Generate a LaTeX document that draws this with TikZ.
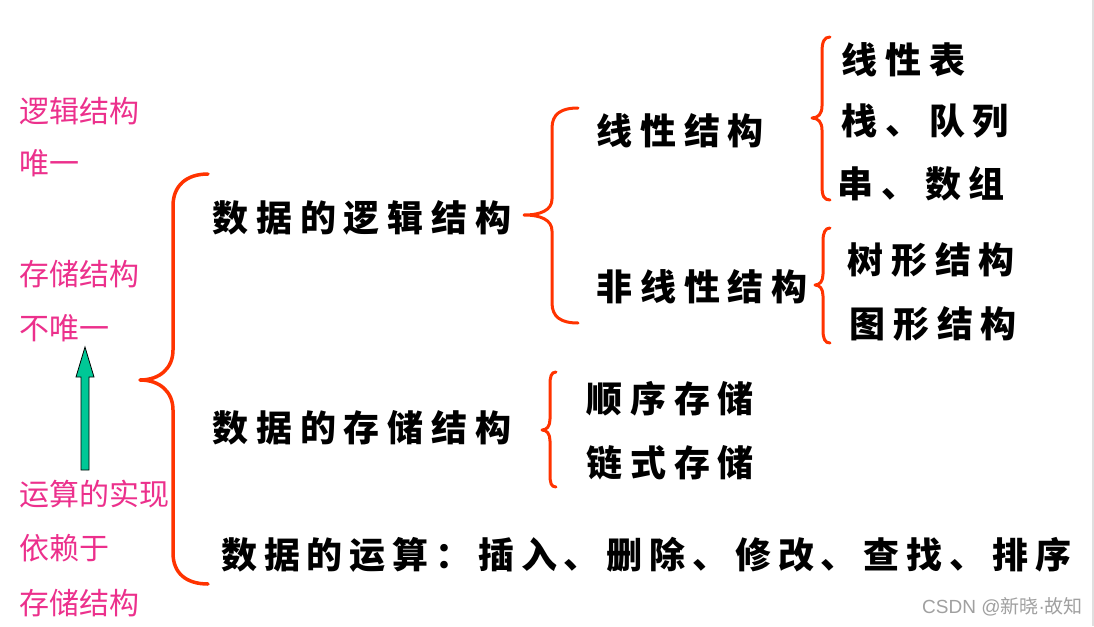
\documentclass[tikz,border=0pt]{standalone}
\usepackage{fontspec}
\newfontfamily\cjk{Noto Sans CJK SC}
\newfontfamily\cjkb[LetterSpace=22]{Noto Sans CJK SC}
\newfontfamily\cjkw[LetterSpace=19]{Noto Sans CJK SC}
\newfontfamily\lat{Liberation Sans}
\definecolor{bracered}{HTML}{FF3300}
\definecolor{notepink}{HTML}{EC308C}
\definecolor{arrowgreen}{HTML}{00C896}
\definecolor{wmgray}{HTML}{A0A0A0}
\tikzset{
  brace/.style={draw=bracered, line width=3.5pt, line cap=round, line join=round},
  smallbrace/.style={brace, line width=3pt},
  lbl/.style={anchor=west, inner sep=0pt, font=\cjkb\bfseries\fontsize{36}{36}\selectfont},
  oplbl/.style={lbl, font=\cjkw\bfseries\fontsize{36}{36}\selectfont},
  note/.style={anchor=west, inner sep=0pt, text=notepink, font=\cjk\fontsize{30}{30}\selectfont},
  wm/.style={anchor=west, inner sep=0pt, text=wmgray, font=\cjk\fontsize{19}{19}\selectfont},
}
\begin{document}
\begin{tikzpicture}[x=1pt,y=-1pt]
\useasboundingbox (0,0) rectangle (1094,626);
\fill[white] (0,0) rectangle (1094,626);
\draw[gray!25, line width=2pt] (1093,0) -- (1093,626);

% pink notes
\node[note] (n1) at (19,111) {逻辑结构};
\node[note] (n2) at (19,163) {唯一};
\node[note] (n3) at (19,274) {存储结构};
\node[note] (n4) at (19,328) {不唯一};
\node[note] (n5) at (19,494) {运算的实现};
\node[note] (n6) at (19,548) {依赖于};
\node[note] (n7) at (19,603) {存储结构};

% green block arrow
\draw[black, fill=arrowgreen, line width=0.8pt, line join=miter]
  (81,470) -- (81,377) -- (76,377) -- (85,347) -- (94,377) -- (89,377) -- (89,470) -- cycle;

% main labels
\node[lbl] (logic) at (212,218) {数据的逻辑结构};
\node[lbl] (store) at (212,428) {数据的存储结构};
\node[oplbl] (ops)   at (221,555) {数据的运算：插入、删除、修改、查找、排序};
\node[lbl] (lin)   at (596,131) {线性结构};
\node[lbl] (nonlin) at (596,287) {非线性结构};
\node[lbl] (l1) at (841,60) {线性表};
\node[lbl] (l2) at (841,121) {栈、队列};
\node[lbl] (l3) at (837,184) {串、数组};
\node[lbl] (t1) at (847,260) {树形结构};
\node[lbl] (t2) at (849,324) {图形结构};
\node[lbl] (s1) at (586,399) {顺序存储};
\node[lbl] (s2) at (586,463) {链式存储};

% braces
\draw[brace] (208,174) .. controls (186,174) and (173,186) .. (173,206)
  -- (173,350) .. controls (173,368) and (160,380) .. (140,380)
  .. controls (160,380) and (173,392) .. (173,410)
  -- (173,553) .. controls (173,573) and (186,584) .. (208,584);
\draw[smallbrace] (578,108) .. controls (561,108) and (552,114) .. (552,128)
  -- (552,199) .. controls (552,210) and (541,215) .. (524,215)
  .. controls (541,215) and (552,220) .. (552,231)
  -- (552,303) .. controls (552,317) and (561,323) .. (578,323);
\draw[smallbrace] (830,37) .. controls (824,37) and (822,42) .. (822,52)
  -- (822,106) .. controls (822,114) and (818,118) .. (812,118)
  .. controls (818,118) and (822,122) .. (822,130)
  -- (822,186) .. controls (822,196) and (824,200) .. (830,200);
\draw[smallbrace] (830,228) .. controls (825,228) and (823,233) .. (823,241)
  -- (823,274) .. controls (823,281) and (820,285) .. (815,285)
  .. controls (820,285) and (823,289) .. (823,296)
  -- (823,330) .. controls (823,339) and (825,343) .. (830,343);
\draw[smallbrace] (556,372) .. controls (551,372) and (550,377) .. (550,385)
  -- (550,419) .. controls (550,426) and (547,430) .. (542,430)
  .. controls (547,430) and (550,434) .. (550,441)
  -- (550,474) .. controls (550,483) and (551,487) .. (556,487);

% watermark
\node[wm] (wmark) at (922,607) {{\lat CSDN @}新晓{\lat ·}故知};
\end{tikzpicture}
\end{document}
